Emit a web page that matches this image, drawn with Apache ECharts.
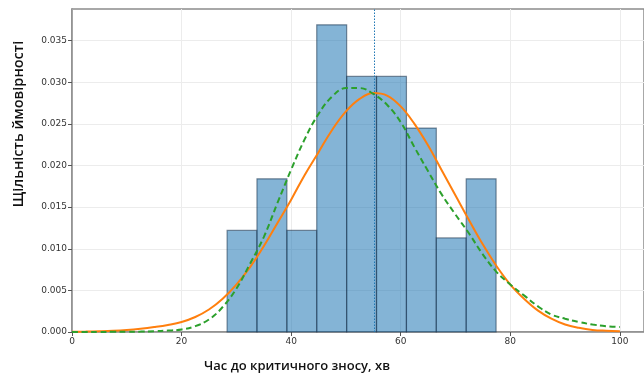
<!DOCTYPE html>
<html>
<head>
<meta charset="utf-8">
<script src="https://cdn.jsdelivr.net/npm/echarts@6/dist/echarts.min.js"></script>
<style>
html,body{margin:0;padding:0;background:#fff;}
#chart{width:644px;height:374px;}
</style>
</head>
<body>
<div id="chart"></div>
<script>
// Histogram bins (edges) and densities
const binEdges = [28.31, 33.76, 39.22, 44.67, 50.13, 55.58, 61.04, 66.49, 71.95, 77.40];
const densities = [0.0122, 0.0184, 0.0122, 0.0369, 0.0307, 0.0307, 0.0245, 0.0113, 0.0184];

// Sample positions along x for the fitted curves
const curveX = [0, 2.5, 5, 7.5, 10, 12.5, 15, 17.5, 20, 22.5, 25, 27.5, 30, 32.5, 35, 37.5, 40, 42.5, 45, 47.5, 50, 52.5, 55, 57.5, 60, 62.5, 65, 67.5, 70, 72.5, 75, 77.5, 80, 82.5, 85, 87.5, 90, 92.5, 95, 97.5, 100];

// Solid orange fitted curve (density read at curveX)
const orangeY = [0.00003, 0.00005, 0.00009, 0.00015, 0.00025, 0.0004, 0.0006, 0.00085, 0.0012, 0.0018, 0.0027, 0.0040, 0.0057, 0.0078, 0.0103, 0.0131, 0.0159, 0.0189, 0.0216, 0.0243, 0.0265, 0.0280, 0.0287, 0.0284, 0.0271, 0.0250, 0.0224, 0.0194, 0.0164, 0.0134, 0.0105, 0.0079, 0.0057, 0.0040, 0.0026, 0.0016, 0.0009, 0.0005, 0.00025, 0.00015, 0.0001];

// Dashed green fitted curve (density read at curveX)
const greenY = [0, 0, 0.00001, 0.00002, 0.00003, 0.00005, 0.0001, 0.00017, 0.0003, 0.0007, 0.0015, 0.0030, 0.0052, 0.0082, 0.0114, 0.0155, 0.0195, 0.0232, 0.0262, 0.0283, 0.0293, 0.0293, 0.0286, 0.0273, 0.0252, 0.0222, 0.0193, 0.0165, 0.0141, 0.0118, 0.0093, 0.0072, 0.0057, 0.0044, 0.0031, 0.0021, 0.0016, 0.0012, 0.0009, 0.0007, 0.0006];

// Vertical reference line position
const refLineX = 55.1;

// Tick labels
const xTicks = [0, 20, 40, 60, 80, 100];
const yTicks = [0, 0.005, 0.010, 0.015, 0.020, 0.025, 0.030, 0.035];

const xTitle = 'Час до критичного зносу, хв';
const yTitle = 'Щільність ймовірності';

const histData = densities.map((d, i) => [binEdges[i], binEdges[i + 1], d]);
const orangeData = curveX.map((x, i) => [x, orangeY[i]]);
const greenData = curveX.map((x, i) => [x, greenY[i]]);

const spine = '#8c8c8c';
const chart = echarts.init(document.getElementById('chart'), null, {renderer: 'canvas'});
chart.setOption({
  animation: false,
  backgroundColor: '#ffffff',
  grid: {left: 72, right: -2, top: 9, bottom: 42, show: true, borderColor: spine, borderWidth: 1.5, backgroundColor: 'transparent'},
  xAxis: {
    type: 'value', min: 0, max: 104.4, interval: 20,
    axisLine: {show: true, onZero: false, lineStyle: {color: spine, width: 1.5}},
    axisTick: {show: true, length: 4, customValues: xTicks, lineStyle: {color: '#555'}},
    axisLabel: {customValues: xTicks, color: '#333', fontFamily: 'DejaVu Sans', fontSize: 9, margin: 5,
      formatter: v => String(Math.round(v))},
    splitLine: {show: true, lineStyle: {color: '#ececec', width: 1}}
  },
  yAxis: {
    type: 'value', min: 0, max: 0.0388, interval: 0.005,
    axisLine: {show: true, onZero: false, lineStyle: {color: spine, width: 1.5}},
    axisTick: {show: true, length: 4, customValues: yTicks, lineStyle: {color: '#555'}},
    axisLabel: {customValues: yTicks, color: '#333', fontFamily: 'DejaVu Sans', fontSize: 9, margin: 5,
      formatter: v => v.toFixed(3)},
    splitLine: {show: true, lineStyle: {color: '#ececec', width: 1}}
  },
  graphic: [
    {type: 'text', x: 297, y: 366, style: {text: xTitle, align: 'center', verticalAlign: 'middle',
      font: '600 13px "Open Sans"', fill: '#111'}},
    {type: 'text', x: 19, y: 124, rotation: Math.PI / 2, style: {text: yTitle, align: 'center', verticalAlign: 'middle',
      font: '600 14.5px "Open Sans"', fill: '#111'}}
  ],
  series: [
    {
      type: 'custom', z: 2,
      data: histData,
      encode: {x: [0, 1], y: 2},
      renderItem: (params, api) => {
        const p0 = api.coord([api.value(0), api.value(2)]);
        const p1 = api.coord([api.value(1), 0]);
        return {type: 'rect', shape: {x: p0[0], y: p0[1], width: p1[0] - p0[0], height: p1[1] - p0[1]},
          style: {fill: 'rgba(31,119,180,0.55)', stroke: 'rgba(25,50,75,0.55)', lineWidth: 1.2}};
      },
      markLine: {
        silent: true, symbol: 'none', label: {show: false},
        lineStyle: {color: '#1f77b4', type: [1.5, 1.5], width: 1},
        data: [{xAxis: refLineX}]
      }
    },
    {type: 'line', z: 4, data: orangeData, showSymbol: false, smooth: 0.4,
      lineStyle: {color: '#ff7f0e', width: 2}},
    {type: 'line', z: 5, data: greenData, showSymbol: false, smooth: 0.4,
      lineStyle: {color: '#2ca02c', width: 2, type: [6, 3.5]}}
  ]
});
</script>
</body>
</html>
